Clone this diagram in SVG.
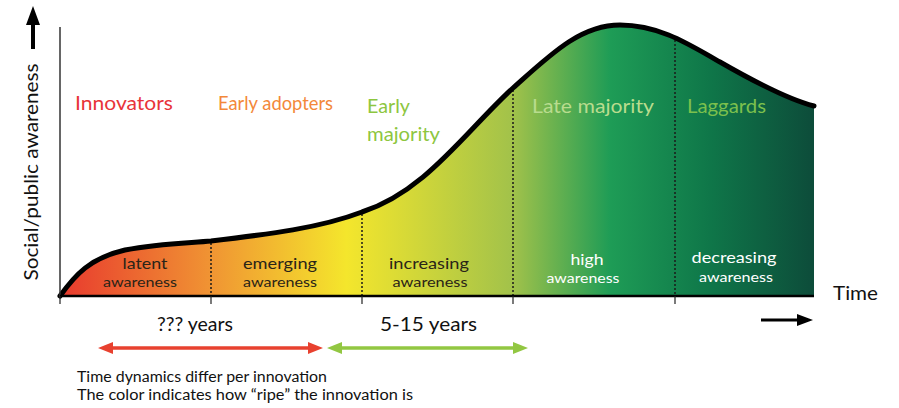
<svg xmlns="http://www.w3.org/2000/svg" width="899" height="408" viewBox="0 0 899 408">
<style>
text{font-family:Lato,"Open Sans","Liberation Sans",sans-serif}
.lbl{font-size:20px}
.sec{font-size:16px;text-anchor:middle}
.sub{font-size:14px;text-anchor:middle}
.dark{fill:#2a2418}
.light{fill:#ffffff}
.dot{stroke:#1a1a1a;stroke-width:1.5;stroke-dasharray:2 2;fill:none}
.tick{stroke:#222;stroke-width:1.2}
.note{font-size:14.5px;fill:#111}
</style>
<defs>
<linearGradient id="g" gradientUnits="userSpaceOnUse" x1="60" y1="0" x2="814" y2="0">
<stop offset="0" stop-color="#e83a2e"/>
<stop offset="0.2" stop-color="#f09433"/>
<stop offset="0.38" stop-color="#f4e62c"/>
<stop offset="0.6" stop-color="#a2c24a"/>
<stop offset="0.73" stop-color="#1e9c56"/>
<stop offset="0.86" stop-color="#0f7749"/>
<stop offset="1" stop-color="#0d4c3a"/>
</linearGradient>
</defs>
<g id="chart">
<path d="M60,296 C75,275 90,258 125,250 C160,243 190,243 211,241 C270,234 320,228 362,212 C425,192 465,132 513,88 C550,55 580,25 620,25 C660,25 690,45 720,62 C760,85 790,100 814,106 L814,296 L60,296 Z" fill="url(#g)"/>
<line x1="211" y1="243" x2="211" y2="296" class="dot"/>
<line x1="362" y1="214" x2="362" y2="296" class="dot"/>
<line x1="513" y1="90" x2="513" y2="296" class="dot"/>
<line x1="675" y1="40" x2="675" y2="296" class="dot"/>
<path d="M60,296 C75,275 90,258 125,250 C160,243 190,243 211,241 C270,234 320,228 362,212 C425,192 465,132 513,88 C550,55 580,25 620,25 C660,25 690,45 720,62 C760,85 790,100 814,106" fill="none" stroke="#000" stroke-width="5" stroke-linecap="round"/>
</g>
<g id="axes">
<line x1="60" y1="27" x2="60" y2="297" stroke="#333" stroke-width="1.5"/>
<line x1="60" y1="296" x2="814" y2="296" stroke="#000" stroke-width="2.5"/>
<line x1="60" y1="296" x2="60" y2="304" class="tick"/>
<line x1="211" y1="296" x2="211" y2="304" class="tick"/>
<line x1="362" y1="296" x2="362" y2="304" class="tick"/>
<line x1="513" y1="296" x2="513" y2="304" class="tick"/>
<line x1="675" y1="296" x2="675" y2="304" class="tick"/>
<path d="M33,6 L40,25 L35,25 L35,49 L31,49 L31,25 L26,25 Z" fill="#000"/>
<text transform="translate(38,172) rotate(-90)" font-size="20" text-anchor="middle" fill="#111" textLength="217" lengthAdjust="spacingAndGlyphs">Social/public awareness</text>
<text x="833" y="300" font-size="19" fill="#111" textLength="45" lengthAdjust="spacingAndGlyphs">Time</text>
<path d="M761,318.5 L797,318.5 L797,314 L813,320 L797,326 L797,321.5 L761,321.5 Z" fill="#000"/>
</g>
<g id="phase-labels">
<text x="75" y="110" class="lbl" fill="#e8343a" textLength="98" lengthAdjust="spacingAndGlyphs">Innovators</text>
<text x="218" y="110" class="lbl" fill="#f3883a" textLength="115" lengthAdjust="spacingAndGlyphs">Early adopters</text>
<text x="367" y="113" class="lbl" fill="#8dc63f" textLength="43" lengthAdjust="spacingAndGlyphs">Early</text>
<text x="367" y="141" class="lbl" fill="#8dc63f" textLength="73" lengthAdjust="spacingAndGlyphs">majority</text>
<text x="532" y="113" class="lbl" fill="#b9dc8e" textLength="122" lengthAdjust="spacingAndGlyphs">Late majority</text>
<text x="687" y="113" class="lbl" fill="#7cc04d" textLength="79" lengthAdjust="spacingAndGlyphs">Laggards</text>
</g>
<g id="section-latent">
<text x="145" y="269" class="sec dark" textLength="45" lengthAdjust="spacingAndGlyphs">latent</text>
<text x="140" y="287" class="sub dark" textLength="74" lengthAdjust="spacingAndGlyphs">awareness</text>
</g>
<g id="section-emerging">
<text x="280" y="269" class="sec dark" textLength="74" lengthAdjust="spacingAndGlyphs">emerging</text>
<text x="280" y="287" class="sub dark" textLength="74" lengthAdjust="spacingAndGlyphs">awareness</text>
</g>
<g id="section-increasing">
<text x="429" y="269" class="sec dark" textLength="80" lengthAdjust="spacingAndGlyphs">increasing</text>
<text x="430" y="287" class="sub dark" textLength="75" lengthAdjust="spacingAndGlyphs">awareness</text>
</g>
<g id="section-high">
<text x="587" y="265" class="sec light" textLength="33" lengthAdjust="spacingAndGlyphs">high</text>
<text x="583" y="283" class="sub light" textLength="73" lengthAdjust="spacingAndGlyphs">awareness</text>
</g>
<g id="section-decreasing">
<text x="734" y="263" class="sec light" textLength="85" lengthAdjust="spacingAndGlyphs">decreasing</text>
<text x="736" y="282" class="sub light" textLength="74" lengthAdjust="spacingAndGlyphs">awareness</text>
</g>
<g id="connectors">
<path d="M98,348 L113,342 L113,346.2 L308,346.2 L308,342 L323,348 L308,354 L308,349.8 L113,349.8 L113,354 Z" fill="#e8412f"/>
<path d="M327,348 L342,342 L342,346.2 L513,346.2 L513,342 L528,348 L513,354 L513,349.8 L342,349.8 L342,354 Z" fill="#92c742"/>
</g>
<g id="durations">
<text x="157" y="331" font-size="19" fill="#111" textLength="76" lengthAdjust="spacingAndGlyphs">??? years</text>
<text x="380" y="331" font-size="19" fill="#111" textLength="97" lengthAdjust="spacingAndGlyphs">5-15 years</text>
</g>
<g id="notes">
<text x="77" y="382" class="note" textLength="250" lengthAdjust="spacingAndGlyphs">Time dynamics differ per innovation</text>
<text x="77" y="400" class="note" textLength="336" lengthAdjust="spacingAndGlyphs">The color indicates how “ripe” the innovation is</text>
</g>
</svg>
